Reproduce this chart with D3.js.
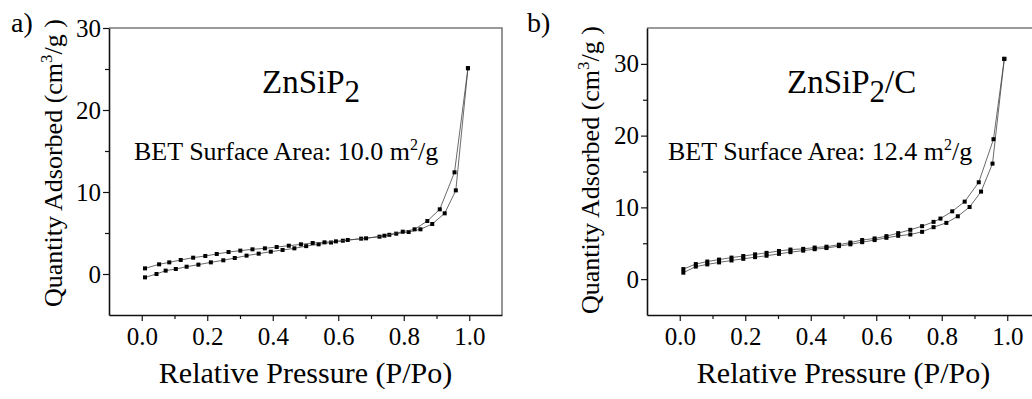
<!DOCTYPE html>
<html>
<head>
<meta charset="utf-8">
<script src="https://cdn.jsdelivr.net/npm/d3@7"></script>
<style>
  body { margin: 0; background: #fff; }
  svg { display: block; }
  svg text { font-family: "Liberation Serif", Tinos, "DejaVu Serif", "Times New Roman", Times, serif !important; fill: #000; }
</style>
</head>
<body>
<svg id="chart" width="1032" height="399"></svg>
<script>
// tick values shared by both panels
const pressureMajor = [0.0, 0.2, 0.4, 0.6, 0.8, 1.0];
const pressureMinor = [0.1, 0.3, 0.5, 0.7, 0.9];
const quantityMajor = [0, 10, 20, 30];
const quantityMinor = [5, 15, 25];

// panel a) ZnSiP2 : [P/Po, cm3/g]
const znsip2Adsorption = [
  [0.010, -0.41], [0.045, 0.00], [0.073, 0.41], [0.104, 0.61], [0.137, 0.89],
  [0.173, 1.14], [0.211, 1.42], [0.249, 1.67], [0.284, 1.95], [0.320, 2.24],
  [0.357, 2.48], [0.394, 2.72], [0.430, 2.93], [0.466, 3.13], [0.502, 3.40],
  [0.540, 3.62], [0.578, 3.84], [0.614, 4.06], [0.670, 4.31], [0.726, 4.55],
  [0.756, 4.78], [0.777, 4.92], [0.815, 5.12], [0.851, 5.45], [0.887, 6.10],
  [0.925, 7.40], [0.959, 10.2], [0.996, 25.1]
];
const znsip2Desorption = [
  [0.010, 0.69], [0.053, 1.18], [0.084, 1.42], [0.119, 1.71], [0.157, 1.99],
  [0.194, 2.20], [0.229, 2.44], [0.265, 2.68], [0.301, 2.85], [0.338, 3.01],
  [0.376, 3.13], [0.412, 3.29], [0.449, 3.45], [0.486, 3.62], [0.522, 3.78],
  [0.558, 3.86], [0.593, 3.98], [0.629, 4.15], [0.685, 4.35], [0.741, 4.67],
  [0.797, 5.16], [0.833, 5.45], [0.872, 6.46], [0.910, 7.89], [0.955, 12.4],
  [0.996, 25.1]
];

// panel b) ZnSiP2/C
const compositeAdsorption = [
  [0.011, 0.90], [0.049, 1.75], [0.084, 2.05], [0.120, 2.33], [0.158, 2.60],
  [0.194, 2.83], [0.230, 3.06], [0.265, 3.26], [0.303, 3.52], [0.338, 3.76],
  [0.377, 3.97], [0.412, 4.17], [0.448, 4.33], [0.486, 4.60], [0.521, 4.85],
  [0.557, 5.15], [0.595, 5.44], [0.631, 5.76], [0.667, 6.04], [0.704, 6.22],
  [0.740, 6.59], [0.775, 7.24], [0.814, 7.84], [0.849, 8.76], [0.885, 10.05],
  [0.920, 12.2], [0.955, 16.1], [0.991, 30.7]
];
const compositeDesorption = [
  [0.011, 1.40], [0.049, 2.10], [0.084, 2.45], [0.120, 2.72], [0.158, 3.00],
  [0.194, 3.22], [0.230, 3.45], [0.265, 3.66], [0.303, 3.92], [0.338, 4.12],
  [0.377, 4.22], [0.412, 4.40], [0.448, 4.52], [0.486, 4.80], [0.521, 5.10],
  [0.557, 5.45], [0.595, 5.67], [0.631, 5.99], [0.667, 6.41], [0.704, 6.87],
  [0.740, 7.38], [0.775, 7.98], [0.796, 8.44], [0.832, 9.45], [0.870, 10.8],
  [0.913, 13.5], [0.958, 19.5], [0.991, 30.7]
];

const svg = d3.select("#chart");

function drawPanel(cfg) {
  const width = 393, height = 287;
  const g = svg.append("g").attr("transform", `translate(${cfg.left}, ${cfg.top})`);

  const x = d3.scaleLinear().domain([-0.1, 1.1]).range([0, width]);
  const y = d3.scaleLinear().domain(cfg.yDomain).range([height, 0]);

  // gray top and right frame
  g.append("path")
    .attr("d", `M0,0H${width}V${height}`)
    .attr("fill", "none")
    .attr("stroke", "#7a7a7a")
    .attr("stroke-width", 1.6);

  // minor ticks first, then labelled major axes
  g.append("g")
    .attr("transform", `translate(0, ${height})`)
    .call(d3.axisBottom(x).tickValues(pressureMinor).tickSize(4).tickFormat(""))
    .call(a => a.select(".domain").remove());
  g.append("g")
    .call(d3.axisLeft(y).tickValues(quantityMinor).tickSize(4).tickFormat(""))
    .call(a => a.select(".domain").remove());

  const xAxis = g.append("g")
    .attr("transform", `translate(0, ${height})`)
    .call(d3.axisBottom(x).tickValues(pressureMajor).tickSize(6).tickSizeOuter(0)
      .tickPadding(6).tickFormat(d3.format(".1f")));
  const yAxis = g.append("g")
    .call(d3.axisLeft(y).tickValues(quantityMajor).tickSize(6).tickSizeOuter(0)
      .tickPadding(2));

  [xAxis, yAxis].forEach(a => {
    a.attr("font-family", null).attr("font-size", null);
    a.select(".domain").attr("stroke", "#111").attr("stroke-width", 1.6);
    a.selectAll("text").attr("font-size", 25);
  });
  g.selectAll(".tick line").attr("stroke", "#111").attr("stroke-width", 1.2);

  // axis titles
  g.append("text")
    .attr("x", width / 2)
    .attr("y", 355)
    .attr("text-anchor", "middle")
    .attr("font-size", 30)
    .text("Relative Pressure (P/Po)");

  const yTitle = g.append("text")
    .attr("transform", `translate(${cfg.yTitleX}, ${cfg.yTitleY}) rotate(-90)`)
    .attr("text-anchor", "middle")
    .attr("font-size", 26);
  yTitle.append("tspan").text("Quantity Adsorbed (cm");
  yTitle.append("tspan").attr("font-size", 17).attr("dy", -10).text("3");
  yTitle.append("tspan").attr("dy", 10).text("/g )");

  // isotherm branches
  const line = d3.line().x(d => x(d[0])).y(d => y(d[1]));
  [cfg.adsorption, cfg.desorption].forEach(series => {
    g.append("path")
      .datum(series)
      .attr("fill", "none")
      .attr("stroke", "#444")
      .attr("stroke-width", 0.8)
      .attr("d", line);
    g.append("g")
      .selectAll("rect")
      .data(series)
      .join("rect")
      .attr("x", d => x(d[0]) - 2)
      .attr("y", d => y(d[1]) - 2)
      .attr("width", 4)
      .attr("height", 4)
      .attr("fill", "#000");
  });

  // sample name and BET area
  const name = g.append("text")
    .attr("x", cfg.nameX)
    .attr("y", 65)
    .attr("font-size", 33);
  name.append("tspan").text("ZnSiP");
  name.append("tspan").attr("dy", 9).attr("font-size", 31).text("2");
  if (cfg.suffix) name.append("tspan").attr("dy", -9).text(cfg.suffix);

  const bet = g.append("text")
    .attr("x", cfg.betX)
    .attr("y", 132)
    .attr("font-size", 26);
  bet.append("tspan").text(`BET Surface Area: ${cfg.bet} m`);
  bet.append("tspan").attr("font-size", 16).attr("dy", -10).text("2");
  bet.append("tspan").attr("dy", 10).text("/g");

  // panel letter
  svg.append("text")
    .attr("x", cfg.letterX)
    .attr("y", 32)
    .attr("font-size", 28)
    .text(cfg.letter);
}

drawPanel({
  left: 109, top: 28, yDomain: [-5, 30],
  adsorption: znsip2Adsorption, desorption: znsip2Desorption,
  yTitleX: -47, yTitleY: 135,
  nameX: 153, suffix: "", betX: 25, bet: "10.0",
  letter: "a)", letterX: 11
});

drawPanel({
  left: 647, top: 28, yDomain: [-5, 35],
  adsorption: compositeAdsorption, desorption: compositeDesorption,
  yTitleX: -48, yTitleY: 142,
  nameX: 140, suffix: "/C", betX: 21, bet: "12.4",
  letter: "b)", letterX: 527
});
</script>
</body>
</html>
